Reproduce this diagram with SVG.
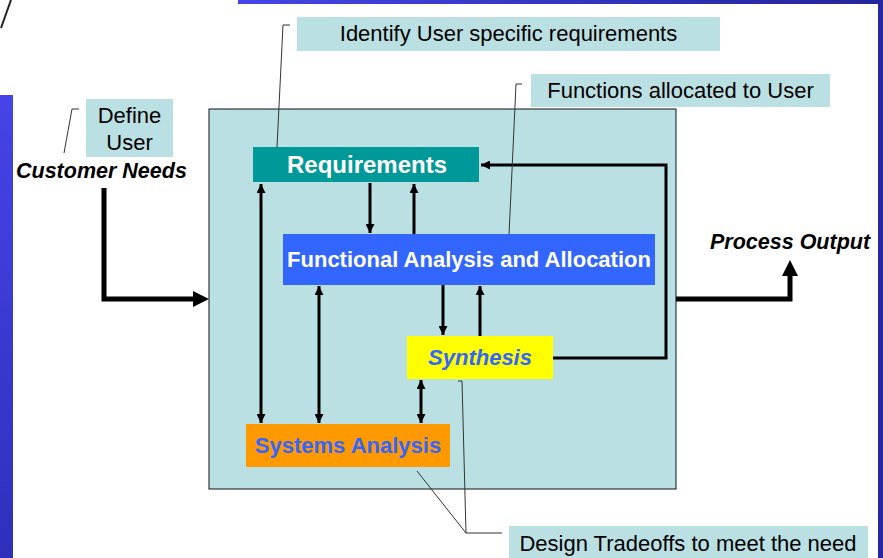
<svg xmlns="http://www.w3.org/2000/svg" width="883" height="558" viewBox="0 0 883 558">
  <defs>
    <linearGradient id="barV" x1="0" y1="0" x2="0" y2="1">
      <stop offset="0" stop-color="#4444e8"/>
      <stop offset="1" stop-color="#2f2fbc"/>
    </linearGradient>
    <linearGradient id="barH" x1="0" y1="0" x2="1" y2="0">
      <stop offset="0" stop-color="#4545e6"/>
      <stop offset="1" stop-color="#24249c"/>
    </linearGradient>
    <marker id="head" viewBox="0 0 10 10" refX="10" refY="5" markerWidth="3" markerHeight="3" orient="auto-start-reverse" markerUnits="strokeWidth">
      <path d="M0,0 L10,5 L0,10 Z" fill="#000"/>
    </marker>
  </defs>
  <style>
    text { font-family: "Liberation Sans", Arial, sans-serif; font-size: 22px; }
    .note { fill: #bbe0e3; }
    .noteText { fill: #000; text-anchor: middle; }
    .lead { fill: none; stroke: #333; stroke-width: 1; }
    .flow { fill: none; stroke: #000; stroke-width: 3; }
    .io { fill: none; stroke: #000; stroke-width: 5; }
    .label { font-weight: bold; text-anchor: middle; }
    .big { font-size: 24px; }
    .io-label { font-weight: bold; font-style: italic; fill: #000; font-size: 21.5px; }
  </style>

  <rect width="883" height="558" fill="#fff"/>

  <!-- slide frame bars -->
  <rect x="0" y="95" width="13" height="463" fill="url(#barV)"/>
  <rect x="238" y="0" width="645" height="4" fill="url(#barH)"/>
  <rect x="878" y="0" width="5" height="558" fill="#2626a0"/>
  <line x1="1" y1="28" x2="11" y2="0" stroke="#222" stroke-width="2"/>

  <!-- process boundary -->
  <rect id="process" x="209" y="109" width="467" height="380" fill="#bbe0e3" stroke="#111" stroke-width="1"/>

  <!-- connectors -->
  <g id="connectors">
    <!-- input / output -->
    <path class="io" d="M104,188 V299 H196" />
    <path d="M193,291 L209,299 L193,307 Z" fill="#000"/>
    <path class="io" d="M676,299 H790 V274" />
    <path d="M782,276 L790,260 L798,276 Z" fill="#000"/>

    <!-- Requirements / Functional Analysis -->
    <line class="flow" x1="370" y1="183" x2="370" y2="233" marker-end="url(#head)"/>
    <line class="flow" x1="414" y1="234" x2="414" y2="184" marker-end="url(#head)"/>
    <!-- Functional Analysis / Synthesis -->
    <line class="flow" x1="443" y1="285" x2="443" y2="335" marker-end="url(#head)"/>
    <line class="flow" x1="480" y1="336" x2="480" y2="286" marker-end="url(#head)"/>
    <!-- two-way links to Systems Analysis -->
    <line class="flow" x1="261" y1="184" x2="261" y2="423" marker-start="url(#head)" marker-end="url(#head)"/>
    <line class="flow" x1="319" y1="286" x2="319" y2="423" marker-start="url(#head)" marker-end="url(#head)"/>
    <line class="flow" x1="421" y1="380" x2="421" y2="423" marker-start="url(#head)" marker-end="url(#head)"/>
    <!-- Synthesis feedback to Requirements -->
    <path class="flow" d="M553,358 H666 V165 H481" marker-end="url(#head)"/>

    <!-- callout leaders -->
    <polyline class="lead" points="64,153 72,109 79,109"/>
    <polyline class="lead" points="277,147 283,25 290,25"/>
    <polyline class="lead" points="509,235 516,84 522,84"/>
    <polyline class="lead" points="417,471 466,533"/>
    <polyline class="lead" points="458,381 462,381 466,533 502,533"/>
  </g>

  <!-- process steps -->
  <g id="requirements">
    <rect x="253" y="147" width="226" height="35" fill="#009999"/>
    <text class="label big" x="367" y="173" fill="#fff">Requirements</text>
  </g>
  <g id="functional-analysis">
    <rect x="283" y="234" width="372" height="51" fill="#3366ff"/>
    <text class="label" x="469" y="267" fill="#fff">Functional Analysis and Allocation</text>
  </g>
  <g id="synthesis">
    <rect x="407" y="336" width="146" height="43" fill="#ffff00"/>
    <text class="label" x="480" y="365" fill="#3366ff" font-style="italic">Synthesis</text>
  </g>
  <g id="systems-analysis">
    <rect x="246" y="424" width="204" height="43" fill="#ff9900"/>
    <text class="label" x="348" y="453" fill="#3366ff">Systems Analysis</text>
  </g>

  <!-- inputs and outputs -->
  <g id="customer-needs">
    <text class="io-label" x="16" y="178">Customer Needs</text>
  </g>
  <g id="process-output">
    <text class="io-label" x="710" y="249">Process Output</text>
  </g>

  <!-- callouts -->
  <g id="note-define-user">
    <rect class="note" x="86" y="99" width="87" height="58"/>
    <text class="noteText" x="129.5" y="123">Define</text>
    <text class="noteText" x="129.5" y="150">User</text>
  </g>
  <g id="note-identify">
    <rect class="note" x="297" y="17" width="423" height="34"/>
    <text class="noteText" x="508.5" y="41">Identify User specific requirements</text>
  </g>
  <g id="note-functions">
    <rect class="note" x="531" y="74" width="299" height="33"/>
    <text class="noteText" x="680.5" y="98">Functions allocated to User</text>
  </g>
  <g id="note-tradeoffs">
    <rect class="note" x="509" y="526" width="359" height="32"/>
    <text class="noteText" x="688" y="551">Design Tradeoffs to meet the need</text>
  </g>
</svg>
